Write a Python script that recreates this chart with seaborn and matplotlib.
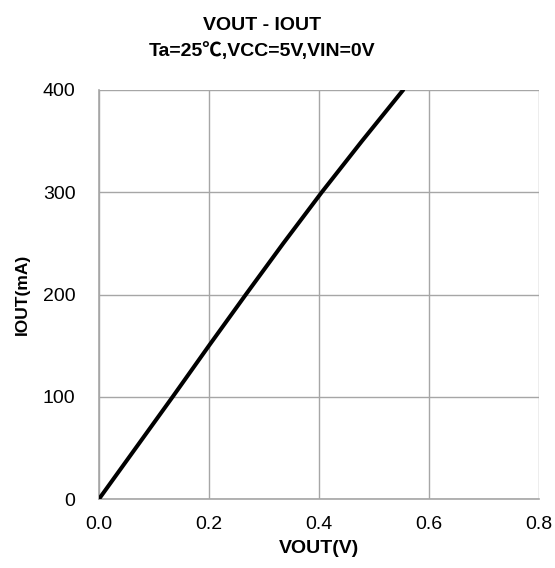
import numpy as np
import matplotlib
matplotlib.use("Agg")
import matplotlib.pyplot as plt
import seaborn as sns

# values
vout = [0.0, 0.134, 0.2, 0.267, 0.335, 0.405, 0.478, 0.553]
iout = [0, 100, 150, 200, 250, 300, 350, 400]
x_ticks = [0.0, 0.2, 0.4, 0.6, 0.8]
y_ticks = [0, 100, 200, 300, 400]

sns.set_style("white")
plt.rcParams['font.family'] = ['Liberation Sans', 'Noto Sans CJK SC', 'DejaVu Sans']
plt.rcParams['text.color'] = 'black'
plt.rcParams['axes.labelcolor'] = 'black'

grid_col = "#a6a6a6"

fig = plt.figure(figsize=(5.55, 5.68), dpi=100)
ax = fig.add_axes([99 / 555, 69 / 568, 440 / 555, 409 / 568])

sns.lineplot(x=vout, y=iout, ax=ax, color="black", linewidth=2.9, zorder=3)

ax.set_xlim(0, 0.8)
ax.set_ylim(0, 400)
ax.set_xticks(x_ticks)
ax.set_yticks(y_ticks)
ax.set_xticklabels([f"{v:.1f}" for v in x_ticks])
ax.set_yticklabels([str(v) for v in y_ticks])

ax.grid(True, color=grid_col, linewidth=1.0)
for side in ["top", "right"]:
    ax.spines[side].set_visible(False)
for side in ["left", "bottom"]:
    ax.spines[side].set_color(grid_col)
    ax.spines[side].set_linewidth(1.2)

ax.tick_params(axis="both", which="major", direction="out", length=5, width=1,
               color=grid_col, labelsize=14, labelcolor="black")
ax.tick_params(axis="y", pad=12)
ax.tick_params(axis="x", pad=7)

ax.set_xlabel("VOUT(V)", fontsize=14, fontweight="bold", labelpad=5)
ax.set_ylabel("IOUT(mA)", fontsize=12.5, fontweight="bold", labelpad=9)

fig.text(262 / 555, 1 - 30 / 568, "VOUT - IOUT", ha="center", va="baseline",
         fontsize=14, fontweight="bold")
fig.text(262 / 555, 1 - 56 / 568, "Ta=25℃,VCC=5V,VIN=0V", ha="center", va="baseline",
         fontsize=14, fontweight="bold")

fig.savefig("out.png", dpi=100)
